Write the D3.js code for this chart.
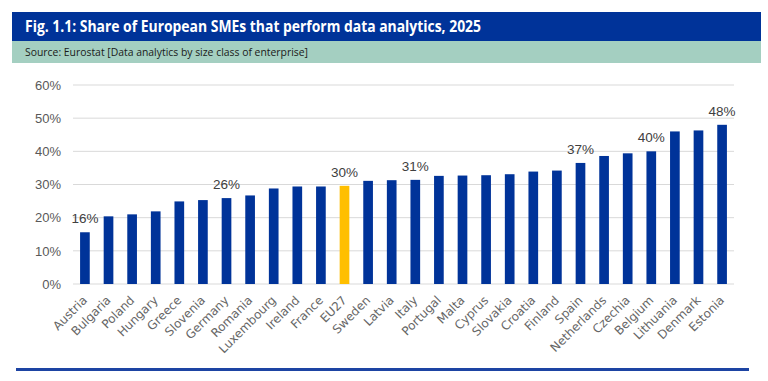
<!DOCTYPE html>
<html>
<head>
<meta charset="utf-8">
<script src="https://cdn.jsdelivr.net/npm/d3@7"></script>
<style>
  html, body { margin: 0; padding: 0; background: #fff; }
  svg { display: block; font-family: "Liberation Sans", Arial, sans-serif; }
</style>
</head>
<body>
<div id="chart"></div>
<script>
// Share of European SMEs that perform data analytics, 2025 (Eurostat)
const countries = ["Austria", "Bulgaria", "Poland", "Hungary", "Greece", "Slovenia", "Germany",
  "Romania", "Luxembourg", "Ireland", "France", "EU27", "Sweden", "Latvia", "Italy", "Portugal",
  "Malta", "Cyprus", "Slovakia", "Croatia", "Finland", "Spain", "Netherlands", "Czechia",
  "Belgium", "Lithuania", "Denmark", "Estonia"];
const shares = [15.6, 20.4, 21.0, 21.9, 24.9, 25.3, 25.9, 26.7, 28.8, 29.4, 29.4, 29.6, 31.1, 31.3,
  31.4, 32.6, 32.7, 32.8, 33.1, 33.9, 34.2, 36.5, 38.6, 39.4, 40.0, 46.0, 46.3, 48.0];
const labelled = ["Austria", "Germany", "EU27", "Italy", "Spain", "Belgium", "Estonia"];
const yTicks = [0, 10, 20, 30, 40, 50, 60];
const title = "Fig. 1.1: Share of European SMEs that perform data analytics, 2025";
const source = "Source: Eurostat [Data analytics by size class of enterprise]";

(function () {
  "use strict";
  const W = 768, H = 381;
  const m = { t: 85, r: 34, b: 97, l: 73 };
  const BLUE = "#003399", GOLD = "#ffbf00";

  const svg = d3.select("#chart").append("svg").attr("width", W).attr("height", H);

  // header banner + source strip
  svg.append("rect").attr("x", 12).attr("y", 12).attr("width", 749).attr("height", 29).attr("fill", BLUE);
  svg.append("rect").attr("x", 12).attr("y", 41).attr("width", 749).attr("height", 22).attr("fill", "#a4cfc1");
  svg.append("text").attr("x", 25).attr("y", 32).attr("fill", "#fff")
    .style("font-family", "'Open Sans', sans-serif").style("font-weight", 700).style("font-size", "16px")
    .attr("textLength", 456).attr("lengthAdjust", "spacingAndGlyphs").text(title);
  svg.append("text").attr("x", 25).attr("y", 56).attr("fill", "#1a1a1a")
    .style("font-family", "'Open Sans', sans-serif").style("font-size", "11.5px")
    .attr("textLength", 283).attr("lengthAdjust", "spacingAndGlyphs").text(source);

  const x = d3.scaleBand().domain(countries).range([m.l, W - m.r]).paddingInner(0.59).paddingOuter(0.3);
  const y = d3.scaleLinear().domain([0, 60]).range([H - m.b, m.t]);

  // gridlines
  svg.append("g").selectAll("line").data(yTicks).join("line")
    .attr("x1", m.l).attr("x2", W - m.r).attr("y1", (d) => y(d)).attr("y2", (d) => y(d))
    .attr("stroke", "#d9d9d9").attr("stroke-width", 1);

  // y axis labels
  const yAxis = svg.append("g").attr("transform", `translate(${m.l - 12},0)`)
    .call(d3.axisLeft(y).tickValues(yTicks).tickFormat((d) => d + "%").tickSize(0).tickPadding(0));
  yAxis.select(".domain").remove();
  yAxis.selectAll("text").attr("fill", "#595959").style("font-size", "13px");

  // bars
  svg.append("g").selectAll("rect").data(countries).join("rect")
    .attr("x", (d) => x(d)).attr("width", x.bandwidth())
    .attr("y", (d, i) => y(shares[i])).attr("height", (d, i) => y(0) - y(shares[i]))
    .attr("fill", (d) => (d === "EU27" ? GOLD : BLUE));

  // value labels on selected bars
  svg.append("g").selectAll("text").data(countries.filter((c) => labelled.includes(c))).join("text")
    .attr("x", (d) => x(d) + x.bandwidth() / 2)
    .attr("y", (d) => y(shares[countries.indexOf(d)]) - 9)
    .attr("text-anchor", "middle").attr("fill", "#404040").style("font-size", "13.5px")
    .text((d) => Math.round(shares[countries.indexOf(d)]) + "%");

  // x axis category labels, rotated
  const xAxis = svg.append("g").attr("transform", `translate(0,${y(0)})`)
    .call(d3.axisBottom(x).tickSize(0).tickPadding(0));
  xAxis.select(".domain").remove();
  xAxis.selectAll("text")
    .attr("text-anchor", "end").attr("dy", 0).attr("y", 0)
    .attr("transform", "translate(3,17) rotate(-45)")
    .attr("fill", "#666").style("font-family", "'DejaVu Sans', sans-serif").style("font-size", "12px");

  // bottom rule
  svg.append("line").attr("x1", 16).attr("x2", 749).attr("y1", 369.5).attr("y2", 369.5)
    .attr("stroke", "#1d44a3").attr("stroke-width", 3);
})();
</script>
</body>
</html>
